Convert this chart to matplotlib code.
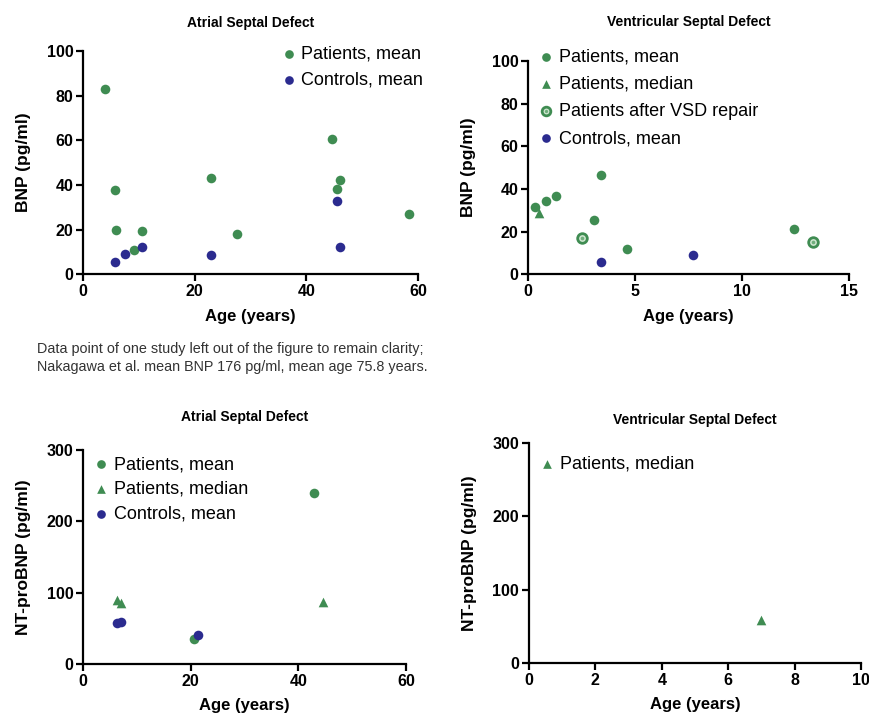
import numpy as np
import matplotlib.pyplot as plt
from matplotlib.legend_handler import HandlerTuple

plt.rcParams['font.family'] = ['Liberation Sans', 'DejaVu Sans']

GREEN = '#3f8c52'
BLUE = '#2b2b8f'

# BNP, atrial septal defect
asd_bnp_pat_age = [4.0, 5.8, 6.0, 9.1, 10.6, 22.9, 27.5, 44.6, 45.5, 46.0, 58.4]
asd_bnp_pat_val = [83.0, 37.7, 19.7, 10.8, 19.3, 42.9, 17.9, 60.5, 38.1, 42.2, 26.8]
asd_bnp_ctl_age = [5.8, 7.6, 10.6, 22.9, 45.5, 46.0]
asd_bnp_ctl_val = [5.4, 9.0, 12.1, 8.4, 32.6, 12.1]

# BNP, ventricular septal defect
vsd_bnp_pat_age = [0.31, 0.83, 1.31, 3.41, 3.08, 4.63, 12.43]
vsd_bnp_pat_val = [31.3, 34.1, 36.5, 46.5, 25.2, 11.6, 21.0]
vsd_bnp_med_age = [0.51]
vsd_bnp_med_val = [28.5]
vsd_bnp_rep_age = [2.52, 13.33]
vsd_bnp_rep_val = [17.2, 15.2]
vsd_bnp_ctl_age = [3.41, 7.71]
vsd_bnp_ctl_val = [5.5, 9.1]

# NT-proBNP, atrial septal defect
asd_nt_pat_age = [43.0, 20.7]
asd_nt_pat_val = [240.3, 35.0]
asd_nt_med_age = [6.4, 7.0, 44.5]
asd_nt_med_val = [90.0, 85.4, 86.3]
asd_nt_ctl_age = [6.4, 7.0, 21.3]
asd_nt_ctl_val = [57.4, 59.3, 40.1]

# NT-proBNP, ventricular septal defect
vsd_nt_med_age = [7.0]
vsd_nt_med_val = [58.9]

fig = plt.figure(figsize=(8.69, 7.16), dpi=100)
ax1 = fig.add_axes([0.0955, 0.617, 0.3855, 0.312])
ax2 = fig.add_axes([0.6076, 0.617, 0.3694, 0.298])
ax3 = fig.add_axes([0.0955, 0.0726, 0.3717, 0.299])
ax4 = fig.add_axes([0.6087, 0.074, 0.3821, 0.307])

MS = 48


def style(ax, xmax, xstep, ymax, ystep, ylabel, title, pad):
    ax.set_xlim(0, xmax)
    ax.set_ylim(0, ymax)
    ax.set_xticks(np.arange(0, xmax + 0.01, xstep))
    ax.set_yticks(np.arange(0, ymax + 0.01, ystep))
    for s in ['top', 'right']:
        ax.spines[s].set_visible(False)
    for s in ['left', 'bottom']:
        ax.spines[s].set_linewidth(1.6)
    ax.tick_params(direction='out', length=5, width=1.6, labelsize=11.5, pad=2)
    for lab in ax.get_xticklabels() + ax.get_yticklabels():
        lab.set_fontweight('bold')
    ax.set_xlabel('Age (years)', fontsize=12, fontweight='bold', labelpad=7)
    ax.set_ylabel(ylabel, fontsize=12.5, fontweight='bold', labelpad=11)
    ax.set_title(title, fontsize=10, fontweight='bold', pad=pad)


def pts(ax, x, y, marker, color, label):
    return ax.scatter(x, y, s=MS, marker=marker, color=color, label=label,
                      clip_on=False, zorder=3, linewidths=0)


def ring(ax, x, y, label):
    outer = ax.scatter(x, y, s=MS, marker='o', facecolor='#cfe6cf', edgecolor=GREEN,
                       linewidths=2.0, label=label, clip_on=False, zorder=3)
    inner = ax.scatter(x, y, s=7, marker='o', color='#6fae7c', linewidths=0,
                       clip_on=False, zorder=4)
    return (outer, inner)


leg_kw = dict(frameon=False, fontsize=13, handletextpad=0.1, labelspacing=0.5,
              borderaxespad=0, handlelength=1.2, markerscale=0.9)

# panel 1
pts(ax1, asd_bnp_pat_age, asd_bnp_pat_val, 'o', GREEN, 'Patients, mean')
pts(ax1, asd_bnp_ctl_age, asd_bnp_ctl_val, 'o', BLUE, 'Controls, mean')
style(ax1, 60, 20, 100, 20, 'BNP (pg/ml)', 'Atrial Septal Defect', 17)
ax1.legend(loc='upper left', bbox_to_anchor=(0.56, 1.055), **leg_kw)

# panel 2
h2 = [pts(ax2, vsd_bnp_pat_age, vsd_bnp_pat_val, 'o', GREEN, 'Patients, mean'),
      pts(ax2, vsd_bnp_med_age, vsd_bnp_med_val, '^', GREEN, 'Patients, median'),
      ring(ax2, vsd_bnp_rep_age, vsd_bnp_rep_val, 'Patients after VSD repair'),
      pts(ax2, vsd_bnp_ctl_age, vsd_bnp_ctl_val, 'o', BLUE, 'Controls, mean')]
style(ax2, 15, 5, 100, 20, 'BNP (pg/ml)', 'Ventricular Septal Defect', 25)
leg_kw2 = dict(leg_kw, labelspacing=0.56)
ax2.legend(h2, ['Patients, mean', 'Patients, median', 'Patients after VSD repair',
                'Controls, mean'],
           handler_map={tuple: HandlerTuple(ndivide=1)},
           loc='upper left', bbox_to_anchor=(0.0, 1.09), **leg_kw2)

# panel 3
pts(ax3, asd_nt_pat_age, asd_nt_pat_val, 'o', GREEN, 'Patients, mean')
pts(ax3, asd_nt_med_age, asd_nt_med_val, '^', GREEN, 'Patients, median')
pts(ax3, asd_nt_ctl_age, asd_nt_ctl_val, 'o', BLUE, 'Controls, mean')
style(ax3, 60, 20, 300, 100, 'NT-proBNP (pg/ml)', 'Atrial Septal Defect', 21)
leg_kw3 = dict(leg_kw, labelspacing=0.42)
ax3.legend(loc='upper left', bbox_to_anchor=(0.0, 1.005), **leg_kw3)

# panel 4
pts(ax4, vsd_nt_med_age, vsd_nt_med_val, '^', GREEN, 'Patients, median')
style(ax4, 10, 2, 300, 100, 'NT-proBNP (pg/ml)', 'Ventricular Septal Defect', 14)
ax4.legend(loc='upper left', bbox_to_anchor=(0.0, 0.975), **leg_kw)

fig.text(0.043, 0.5, 'Data point of one study left out of the figure to remain clarity;\n'
         'Nakagawa et al. mean BNP 176 pg/ml, mean age 75.8 years.',
         fontsize=10.4, color='#333333', va='center', ha='left', linespacing=1.45)

fig.savefig('out.png', dpi=100)
